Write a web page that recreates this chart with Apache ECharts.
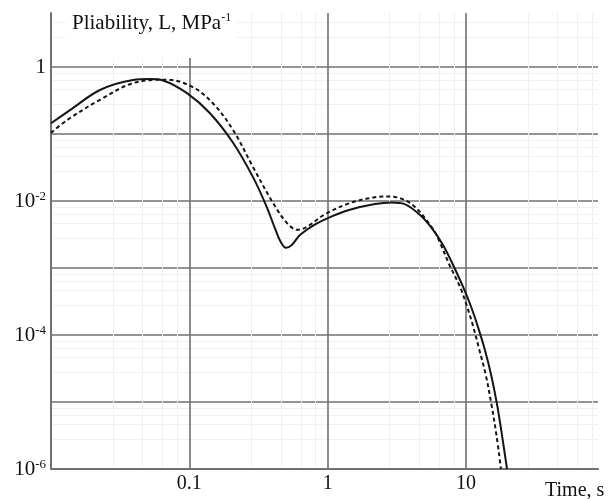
<!DOCTYPE html>
<html>
<head>
<meta charset="utf-8">
<script src="https://cdn.jsdelivr.net/npm/echarts@6/dist/echarts.min.js"></script>
<style>
    html, body { margin: 0; padding: 0; background: #fff; }
    #chart { width: 609px; height: 499px; }
</style>
</head>
<body>
<div id="chart"></div>
<script>
// time, s
let solidTime = [0.01, 0.0138, 0.0226, 0.0392, 0.052, 0.0646, 0.0962, 0.141, 0.207, 0.288, 0.363, 0.42, 0.46, 0.5,
    0.55, 0.63, 0.8, 1.04, 1.45, 2.2, 2.9, 3.6, 4.66, 5.78, 6.82, 8.07, 9.53, 10.9, 12.2, 13.7, 15.2, 16.8, 18.2, 19.8]
// pliability, MPa^-1
let solidValues = [0.145, 0.229, 0.454, 0.64, 0.66, 0.63, 0.407, 0.204, 0.0741, 0.0229, 0.00813, 0.0037, 0.0024, 0.002,
    0.0022, 0.0031, 0.0044, 0.00575, 0.00741, 0.0090, 0.0095, 0.0090, 0.00617, 0.00372, 0.0022, 0.00111, 0.000522,
    0.000262, 0.000132, 5.97e-5, 2.53e-5, 9.0e-6, 3.21e-6, 1.0e-6]

let dashedTime = [0.01, 0.0131, 0.0226, 0.0392, 0.069, 0.106, 0.148, 0.207, 0.288, 0.403, 0.508, 0.603,
    0.99, 1.45, 2.28, 2.69, 3.94, 5.78, 6.5, 7.6, 9.06, 10.2, 11.3, 12.5, 13.9, 15.3, 16.6, 17.9]
let dashedValues = [0.104, 0.162, 0.324, 0.575, 0.646, 0.501, 0.288, 0.115, 0.0324, 0.00933, 0.00468, 0.00372,
    0.00661, 0.00933, 0.0115, 0.0117, 0.00933, 0.00382, 0.00236, 0.00111, 0.00052, 0.000262, 0.000132,
    5.97e-5, 2.53e-5, 9.0e-6, 3.21e-6, 1.0e-6]

// tick labels (by power of ten)
let xTickPowers = [-1, 0, 1]
let xTickLabels = ['0.1', '1', '10']
let yTickPowers = [0, -2, -4, -6]
let yTickLabels = ['1', '10{s|-2}', '10{s|-4}', '10{s|-6}']

function pairs(xs, ys) {
    return xs.map((x, i) => [x, ys[i]])
}

function labelFor(powers, labels) {
    return function (v) {
        let lg = Math.log10(v)
        let e = Math.round(lg)
        if (Math.abs(lg - e) > 1e-6) return ''
        let i = powers.indexOf(e)
        return i < 0 ? '' : labels[i]
    }
}

let font = 'Liberation Serif'
let gridColor = '#707070'

let chart = echarts.init(document.getElementById('chart'))
let option = {
    animation: false,
    backgroundColor: '#fff',
    title: [
        {
            text: 'Pliability, L, MPa{s|-1}',
            left: 66,
            top: 8,
            padding: [4, 6, 24, 6],
            backgroundColor: '#fff',
            textStyle: {
                fontFamily: font, fontSize: 21, fontWeight: 'normal', color: '#111',
                lineHeight: 22,
                rich: { s: { fontFamily: font, fontSize: 12, lineHeight: 12, verticalAlign: 'top', color: '#111' } }
            }
        },
        {
            text: 'Time, s',
            left: 545,
            top: 481,
            padding: 0,
            textStyle: { fontFamily: font, fontSize: 20, fontWeight: 'normal', color: '#111' }
        }
    ],
    grid: { left: 51, top: 13, right: 11, bottom: 30 },
    xAxis: {
        type: 'log',
        logBase: 10,
        min: 0.01,
        max: 90,
        axisLine: { show: true, lineStyle: { color: gridColor, width: 2 } },
        axisTick: { show: false },
        axisLabel: {
            formatter: labelFor(xTickPowers, xTickLabels),
            fontFamily: font, fontSize: 20, color: '#111', margin: 5,
            showMinLabel: false, showMaxLabel: false
        },
        splitLine: { show: true, showMinLine: false, showMaxLine: false, lineStyle: { color: gridColor, width: 1.6 } },
        minorSplitLine: { show: true, lineStyle: { color: '#f0f0f0', width: 1 } },
        minorTick: { show: false, splitNumber: 5 }
    },
    yAxis: {
        type: 'log',
        logBase: 10,
        min: 1e-6,
        max: 6.4,
        axisLine: { show: true, lineStyle: { color: gridColor, width: 2 } },
        axisTick: { show: false },
        axisLabel: {
            formatter: labelFor(yTickPowers, yTickLabels),
            fontFamily: font, fontSize: 21, color: '#111', margin: 5,
            lineHeight: 21,
            rich: { s: { fontFamily: font, fontSize: 13, lineHeight: 13, verticalAlign: 'top', color: '#111' } }
        },
        splitLine: { show: true, showMinLine: false, showMaxLine: false, lineStyle: { color: gridColor, width: 1.6 } },
        minorSplitLine: { show: true, lineStyle: { color: '#f0f0f0', width: 1 } },
        minorTick: { show: false, splitNumber: 5 }
    },
    series: [
        {
            type: 'line',
            data: pairs(solidTime, solidValues),
            smooth: 0.35,
            showSymbol: false,
            lineStyle: { color: '#151515', width: 2 },
            z: 3
        },
        {
            type: 'line',
            data: pairs(dashedTime, dashedValues),
            smooth: 0.35,
            showSymbol: false,
            lineStyle: { color: '#151515', width: 2, type: [4, 3] },
            z: 3
        }
    ]
}
chart.setOption(option)
</script>
</body>
</html>
